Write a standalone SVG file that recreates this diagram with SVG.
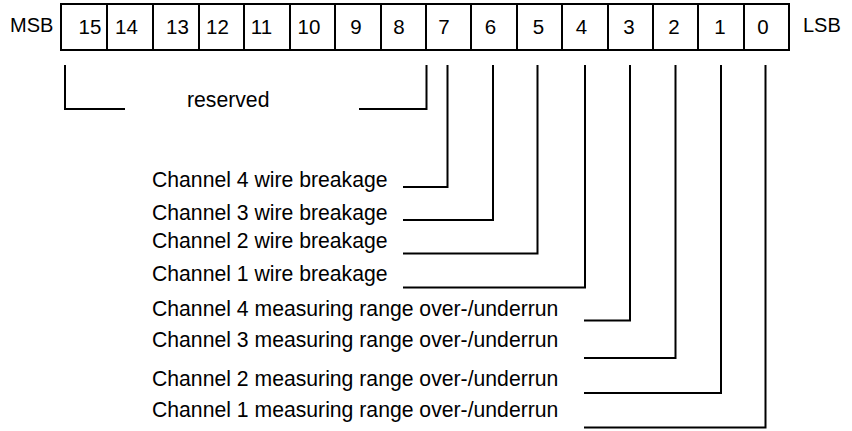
<svg xmlns="http://www.w3.org/2000/svg" width="852" height="431" viewBox="0 0 852 431">
<style>
.cell{fill:#fff;stroke:#000;stroke-width:2}
.bit{font-family:"Liberation Sans",Arial,Helvetica,sans-serif;font-size:20.5px;fill:#000;text-anchor:middle}
.end{font-family:"Liberation Sans",Arial,Helvetica,sans-serif;font-size:20px;fill:#000}
.lbl{font-family:"Liberation Sans",Arial,Helvetica,sans-serif;font-size:21.2px;fill:#000}
.con{fill:none;stroke:#000;stroke-width:2;stroke-linejoin:miter;stroke-linecap:square}
</style>
<rect width="852" height="431" fill="#fff"/>
<g id="msb"><text class="end" x="10" y="32">MSB</text></g>
<g id="lsb"><text class="end" x="803" y="32">LSB</text></g>
<g id="register">
<g id="bit15"><rect class="cell" x="61" y="4" width="46" height="46"/><text class="bit" x="90" y="34">15</text></g>
<g id="bit14"><rect class="cell" x="107" y="4" width="46" height="46"/><text class="bit" x="126.5" y="34">14</text></g>
<g id="bit13"><rect class="cell" x="153" y="4" width="46" height="46"/><text class="bit" x="177.5" y="34">13</text></g>
<g id="bit12"><rect class="cell" x="199" y="4" width="45" height="46"/><text class="bit" x="217.5" y="34">12</text></g>
<g id="bit11"><rect class="cell" x="244" y="4" width="46" height="46"/><text class="bit" x="261.5" y="34">11</text></g>
<g id="bit10"><rect class="cell" x="290" y="4" width="45" height="46"/><text class="bit" x="309" y="34">10</text></g>
<g id="bit9"><rect class="cell" x="335" y="4" width="46" height="46"/><text class="bit" x="356" y="34">9</text></g>
<g id="bit8"><rect class="cell" x="381" y="4" width="45" height="46"/><text class="bit" x="399" y="34">8</text></g>
<g id="bit7"><rect class="cell" x="426" y="4" width="45" height="46"/><text class="bit" x="444" y="34">7</text></g>
<g id="bit6"><rect class="cell" x="471" y="4" width="46" height="46"/><text class="bit" x="490.5" y="34">6</text></g>
<g id="bit5"><rect class="cell" x="517" y="4" width="45" height="46"/><text class="bit" x="538.5" y="34">5</text></g>
<g id="bit4"><rect class="cell" x="562" y="4" width="46" height="46"/><text class="bit" x="581.5" y="34">4</text></g>
<g id="bit3"><rect class="cell" x="608" y="4" width="45" height="46"/><text class="bit" x="629" y="34">3</text></g>
<g id="bit2"><rect class="cell" x="653" y="4" width="45" height="46"/><text class="bit" x="674" y="34">2</text></g>
<g id="bit1"><rect class="cell" x="698" y="4" width="46" height="46"/><text class="bit" x="720" y="34">1</text></g>
<g id="bit0"><rect class="cell" x="744" y="4" width="45" height="46"/><text class="bit" x="763" y="34">0</text></g>
</g>
<g id="label-reserved"><text class="lbl" x="187" y="107">reserved</text></g>
<g id="label-b7"><text class="lbl" x="152" y="187">Channel 4 wire breakage</text></g>
<g id="label-b6"><text class="lbl" x="152" y="220">Channel 3 wire breakage</text></g>
<g id="label-b5"><text class="lbl" x="152" y="248">Channel 2 wire breakage</text></g>
<g id="label-b4"><text class="lbl" x="152" y="281">Channel 1 wire breakage</text></g>
<g id="label-b3"><text class="lbl" x="152" y="316">Channel 4 measuring range over-/underrun</text></g>
<g id="label-b2"><text class="lbl" x="152" y="347">Channel 3 measuring range over-/underrun</text></g>
<g id="label-b1"><text class="lbl" x="152" y="386">Channel 2 measuring range over-/underrun</text></g>
<g id="label-b0"><text class="lbl" x="152" y="417">Channel 1 measuring range over-/underrun</text></g>
<g id="connectors">
<polyline class="con" points="65,66 65,109 124,109"/>
<polyline class="con" points="360,109 426.5,109 426.5,66"/>
<polyline class="con" points="404,187 447.5,187 447.5,66"/>
<polyline class="con" points="404,220 493,220 493,66"/>
<polyline class="con" points="404,253.5 537.5,253.5 537.5,66"/>
<polyline class="con" points="404,287.5 585,287.5 585,66"/>
<polyline class="con" points="585,320.5 630,320.5 630,66"/>
<polyline class="con" points="585,358 675.5,358 675.5,66"/>
<polyline class="con" points="585,393 721,393 721,66"/>
<polyline class="con" points="585,427.5 765.5,427.5 765.5,66"/>
</g>
</svg>
